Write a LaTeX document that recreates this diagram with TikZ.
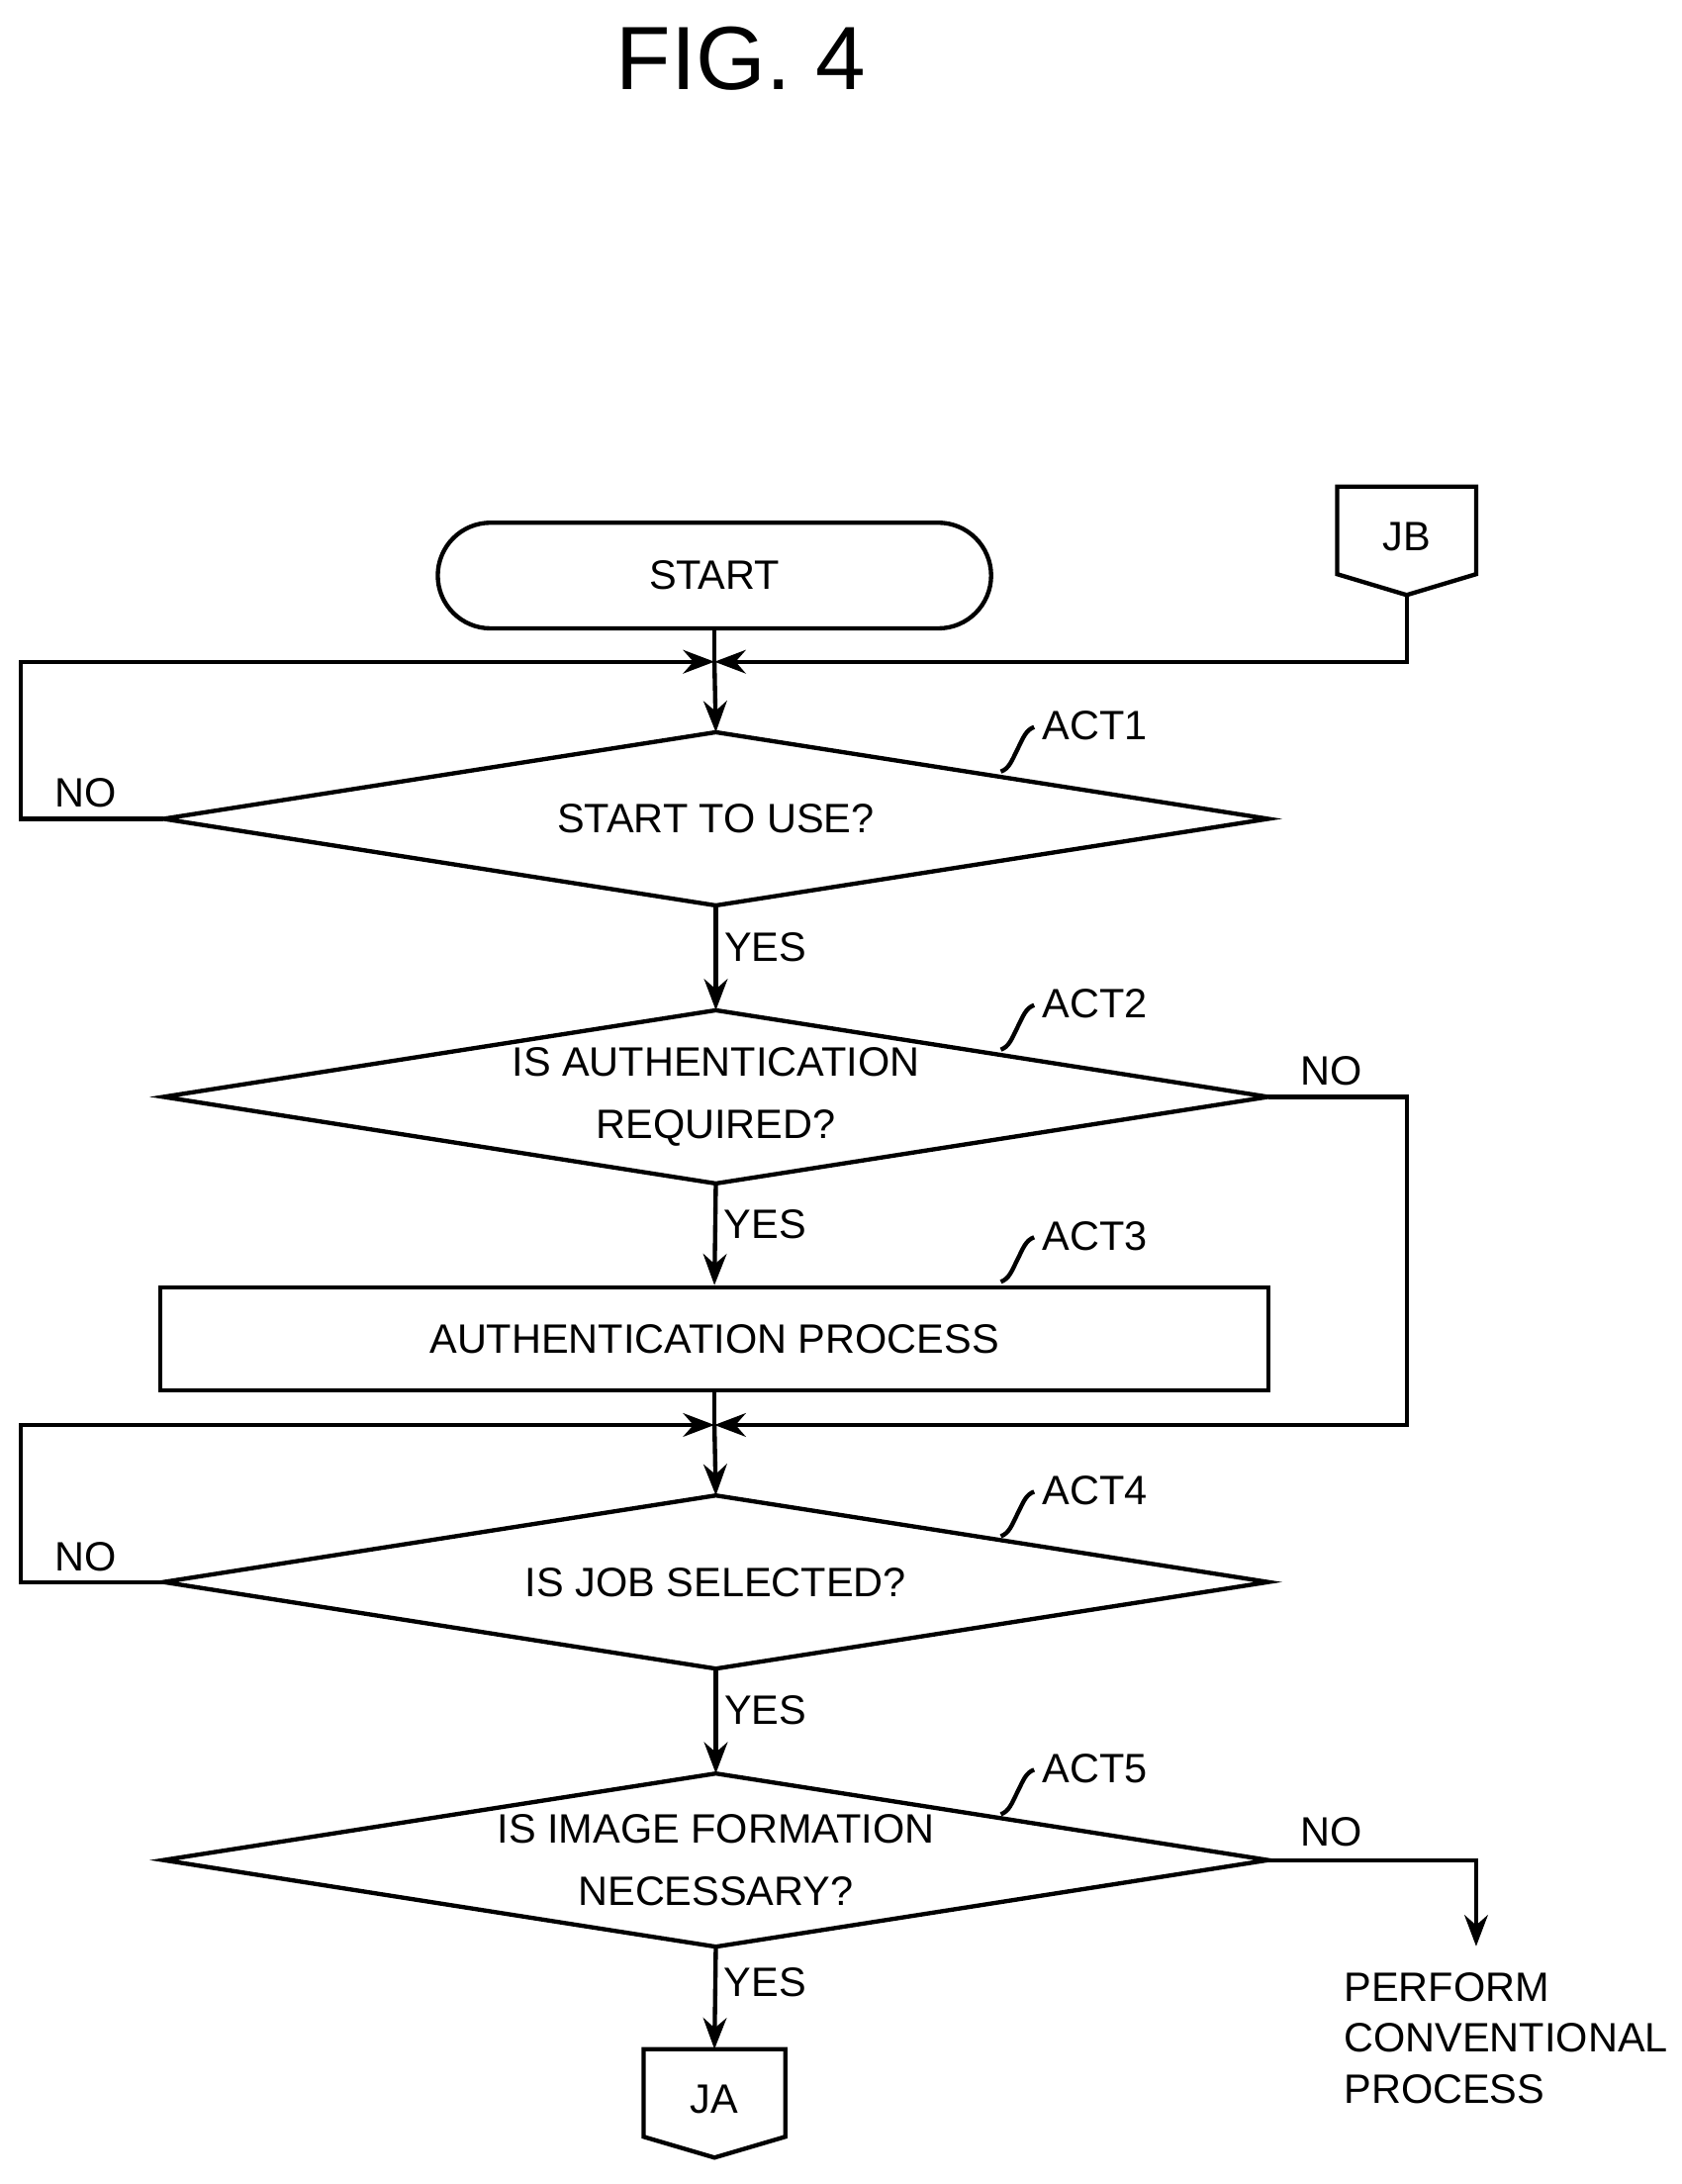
\documentclass[tikz,border=0pt]{standalone}
\usepackage{fontspec}
\setmainfont{Liberation Sans}
\usetikzlibrary{shapes.geometric, arrows.meta, positioning}

\tikzset{
	line/.style={line width=2.2pt},
	flow/.style={line, -{Stealth[length=16pt, width=12pt]}},
	decision/.style={rectangle, inner sep=0pt, minimum width=19.85cm, minimum height=3.1cm, align=center, font=\fontsize{21}{32}\selectfont},
	process/.style={rectangle, draw, line, minimum width=19.93cm, minimum height=1.85cm, font=\fontsize{21}{26}\selectfont},
	terminal/.style={rectangle, rounded corners=0.95cm, draw, line, minimum width=9.95cm, minimum height=1.9cm, font=\fontsize{21}{26}\selectfont},
	label/.style={font=\fontsize{21}{26}\selectfont},
	act/.style={font=\fontsize{21}{26}\selectfont, anchor=west}
}

\newcommand{\squiggle}[1]{%
	\draw[line] (#1) .. controls +(6,-2) and +(-4,8) .. +(12,-16) .. controls +(4,-8) and +(-6,2) .. +(24,-32);}

\begin{document}
\begin{tikzpicture}[x=0.025cm, y=-0.025cm]

	\useasboundingbox (0,0) rectangle (1210,1571);

	% Title
	\node[font=\fontsize{46}{50}\selectfont] (title) at (533,42) {FIG. 4};

	% Nodes
	\node[terminal] (start) at (514,414) {START};
	\node[decision] (use) at (515,589) {START TO USE?};
	\node[decision] (auth) at (515,789) {IS AUTHENTICATION\\REQUIRED?};
	\node[process] (authproc) at (514,963) {AUTHENTICATION PROCESS};
	\node[decision] (job) at (515,1138) {IS JOB SELECTED?};
	\node[decision] (image) at (515,1338) {IS IMAGE FORMATION\\NECESSARY?};

	% Diamond outlines
	\foreach \d in {use, auth, job, image}
		\draw[line] (\d.north) -- (\d.east) -- (\d.south) -- (\d.west) -- cycle;

	% Off-page connectors
	\draw[line] (962,350) -- (1062,350) -- (1062,413) -- (1012,428) -- (962,413) -- cycle;
	\node[label] (jb) at (1012,386) {JB};
	\coordinate (jbout) at (1012,428);
	\draw[line] (463,1474) -- (565,1474) -- (565,1537) -- (514,1552) -- (463,1537) -- cycle;
	\node[label] (ja) at (514,1510) {JA};
	\coordinate (jain) at (514,1474);

	% Merge points
	\coordinate (merge1) at (514,476);
	\coordinate (merge2) at (514,1025);
	\coordinate (conv) at (1062,1400);

	% Main flow
	\draw[line] (start) -- (merge1);
	\draw[flow] (merge1) -- (use.north);
	\draw[flow] (use.south) -- node[label, right, pos=0.4] {YES} (auth.north);
	\draw[flow] (auth.south) -- node[label, right, pos=0.4] {YES} (authproc.north);
	\draw[line] (authproc.south) -- (merge2);
	\draw[flow] (merge2) -- (job.north);
	\draw[flow] (job.south) -- node[label, right, pos=0.4] {YES} (image.north);
	\draw[flow] (image.south) -- node[label, right, pos=0.35] {YES} (jain);

	% Loops
	\draw[flow] (jbout) |- (merge1);
	\draw[flow] (use.west) -- (15,589) |- (merge1);
	\node[label] at (62,570) {NO};
	\draw[flow] (auth.east) -| (1012,1025) -- (merge2);
	\node[label] at (958,770) {NO};
	\draw[flow] (job.west) -- (15,1138) |- (merge2);
	\node[label] at (62,1120) {NO};
	\draw[flow] (image.east) -| (conv);
	\node[label] at (958,1318) {NO};
	\node[label, align=left, anchor=north west] (perform) at (962,1414) {PERFORM\\CONVENTIONAL\\PROCESS};

	% Step labels
	\foreach \n/\y in {1/522, 2/722, 3/889, 4/1072, 5/1272} {
		\node[act] at (745,\y) {ACT\n};
		\squiggle{720,\y+33}
	}

\end{tikzpicture}
\end{document}
